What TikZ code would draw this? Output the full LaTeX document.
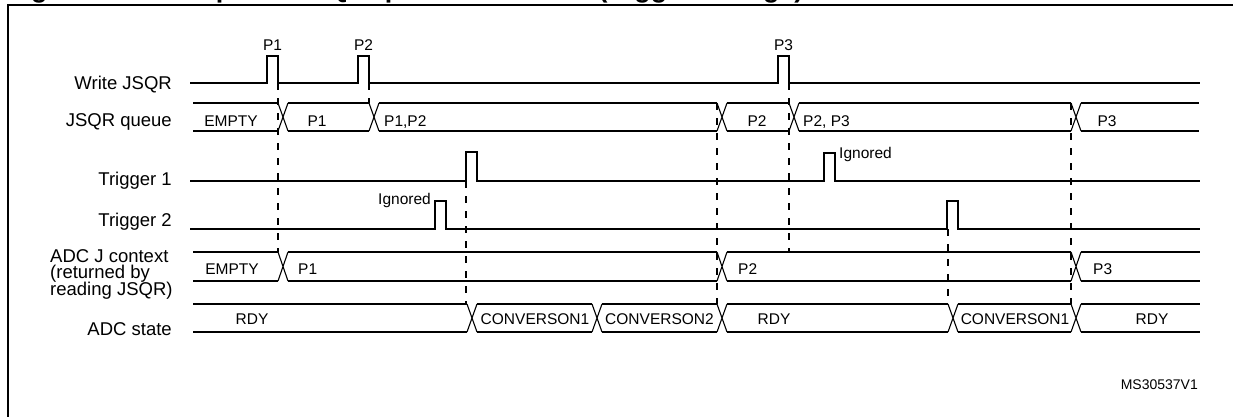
\documentclass[tikz,border=0pt]{standalone}
\usepackage{fontspec}
\setmainfont{Liberation Sans}
\newcommand\lblfont{\fontsize{18.5}{16.5}\selectfont}
\newcommand\valfont{\fontsize{15.5}{18}\selectfont}
\begin{document}
\begin{tikzpicture}[x=1pt,y=-1pt,
  sig/.style={line width=2.2pt,line join=miter},
  xl/.style={line width=1.1pt},
  guide/.style={line width=2pt,dash pattern=on 7pt off 8pt},
  lbl/.style={inner sep=0pt,font=\lblfont,anchor=base east},
  lbll/.style={inner sep=0pt,font=\lblfont,anchor=base west},
  val/.style={inner sep=0pt,font=\valfont,anchor=base},
  vall/.style={inner sep=0pt,font=\valfont,anchor=base west}]
\useasboundingbox (0,0) rectangle (1233,416);
\clip (0,0) rectangle (1233,416);
% frame and title
\draw[line width=2pt] (7.8,430) -- (7.8,5.3) -- (1240,5.3);
\node[inner sep=0pt,anchor=base west,font=\bfseries\fontsize{26.9}{28}\selectfont] (title) at (7,-3) {Figure 64. Example of JSQR queue of context (trigger change)};
% labels
\node[lbl] (lwrite) at (172,89.3) {Write JSQR};
\node[lbl] (lqueue) at (172,126.7) {JSQR queue};
\node[lbl] (ltrig1) at (172,185) {Trigger 1};
\node[lbl] (ltrig2) at (172,226.7) {Trigger 2};
\node[lbll] (lctxa) at (50,262.3) {ADC J context};
\node[lbll] (lctxb) at (50,278.7) {(returned by};
\node[lbll] (lctxc) at (50,295) {reading JSQR)};
\node[lbl] (lstate) at (172,335) {ADC state};
% guides
\draw[guide] (278,83) -- (278,252);
\draw[guide] (369,83) -- (369,103);
\draw[guide] (789,83) -- (789,252);
\draw[guide] (466,181) -- (466,304);
\draw[guide] (948,229) -- (948,304);
\draw[guide] (717,103) -- (717,304);
\draw[guide] (1071,103) -- (1071,304);
% Write JSQR
\draw[sig] (190,83) -- (267,83) -- (267,56) -- (278,56) -- (278,83) -- (358,83) -- (358,56) -- (369,56) -- (369,83)
  -- (778,83) -- (778,56) -- (789,56) -- (789,83) -- (1200,83);
\node[val] (p1) at (272.5,50) {P1};
\node[val] (p2) at (363.5,50) {P2};
\node[val] (p3) at (783.5,50) {P3};
% JSQR queue
\foreach \a/\b in {193/278,288/369,379/717,727/789,799/1071,1081/1199}
  {\draw[sig] (\a,103) -- (\b,103) (\a,131) -- (\b,131);}
\foreach \x in {278,369,717,789,1071}
  {\draw[xl] (\x,103) -- (\x+10,131) (\x,131) -- (\x+10,103);}
\node[val] (qempty) at (231,126.5) {EMPTY};
\node[val] (qp1) at (317,126.5) {P1};
\node[vall] (qp12) at (384,126.5) {P1,P2};
\node[val] (qp2) at (757,126.5) {P2};
\node[vall] (qp23) at (803,126.5) {P2, P3};
\node[val] (qp3) at (1107,126.5) {P3};
% Trigger 1
\draw[sig] (190,181) -- (466,181) -- (466,152) -- (477,152) -- (477,181) -- (824,181) -- (824,153) -- (835,153) -- (835,181) -- (1200,181);
\node[vall] (ign1) at (839,158.3) {Ignored};
% Trigger 2
\draw[sig] (190,229) -- (435,229) -- (435,201) -- (446,201) -- (446,229) -- (947,229) -- (947,201) -- (958,201) -- (958,229) -- (1200,229);
\node[inner sep=0pt,font=\valfont,anchor=base east] (ign2) at (431,204.3) {Ignored};
% ADC J context
\foreach \a/\b in {193/278,288/717,727/1071,1081/1200}
  {\draw[sig] (\a,252) -- (\b,252) (\a,281) -- (\b,281);}
\foreach \x in {278,717,1071}
  {\draw[xl] (\x,252) -- (\x+10,281) (\x,281) -- (\x+10,252);}
\node[val] (cempty) at (232,274) {EMPTY};
\node[vall] (cp1) at (298,274) {P1};
\node[vall] (cp2) at (738,274) {P2};
\node[vall] (cp3) at (1093,274) {P3};
% ADC state
\foreach \a/\b in {193/467,477/592,602/717,727/948,958/1071,1081/1200}
  {\draw[sig] (\a,304) -- (\b,304) (\a,332) -- (\b,332);}
\foreach \x in {467,592,717,948,1071}
  {\draw[xl] (\x,304) -- (\x+10,332) (\x,332) -- (\x+10,304);}
\node[val] (srdy1) at (252,324) {RDY};
\node[val] (sc1) at (535,324) {CONVERSON1};
\node[val] (sc2) at (659.5,324) {CONVERSON2};
\node[val] (srdy2) at (774,324) {RDY};
\node[val] (sc3) at (1015,324) {CONVERSON1};
\node[val] (srdy3) at (1152,324) {RDY};
% figure id
\node[inner sep=0pt,font=\fontsize{14}{16}\selectfont,anchor=base east] (msid) at (1198,389) {MS30537V1};
\end{tikzpicture}
\end{document}
